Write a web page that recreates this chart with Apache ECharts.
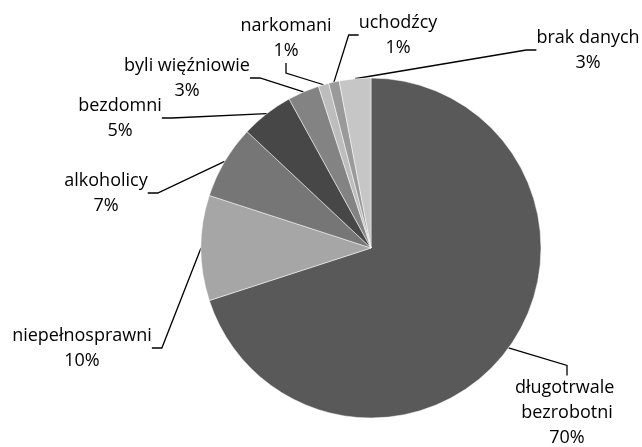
<!DOCTYPE html>
<html><head><meta charset="utf-8">
<script src="https://cdn.jsdelivr.net/npm/echarts@6/dist/echarts.min.js"></script>
<style>html,body{margin:0;padding:0;background:#fff}#c{width:642px;height:447px}</style>
</head><body><div id="c"></div>
<script>
const categories = ['długotrwale bezrobotni','niepełnosprawni','alkoholicy','bezdomni','byli więźniowie','narkomani','uchodźcy','brak danych'];
const values = [70,10,7,5,3,1,1,3];
const colors = ['#595959','#a6a6a6','#767676','#474747','#838383','#bdbdbd','#9a9a9a','#c6c6c6'];
// label block centres (layout only)
const labelPos = [[567,413],[82,348],[106,193],[120,118],[187,78],[286,38],[398,35],[588,50]];

const chart = echarts.init(document.getElementById('c'));
chart.setOption({
  animation:false,
  series:[{
    type:'pie',
    center:[371,248],
    radius:170,
    startAngle:90,
    clockwise:true,
    avoidLabelOverlap:false,
    data:categories.map((n,i)=>({name:n,value:values[i],itemStyle:{color:colors[i]},
      label: i===0 ? {width:125, overflow:'break'} : {}})),
    itemStyle:{borderColor:'#ffffff',borderWidth:0.5},
    label:{show:true,position:'outside',formatter:'{b}\n{c}%',fontFamily:'Open Sans',fontSize:18,lineHeight:25,color:'#000',align:'center'},
    labelLine:{show:true,length:10,length2:10,lineStyle:{color:'#000',width:1.3}},
    labelLayout:function(p){
      const q=labelPos[p.dataIndex];
      return {x:q[0],y:q[1],align:'center',verticalAlign:'middle'};
    }
  }]
});
</script></body></html>
